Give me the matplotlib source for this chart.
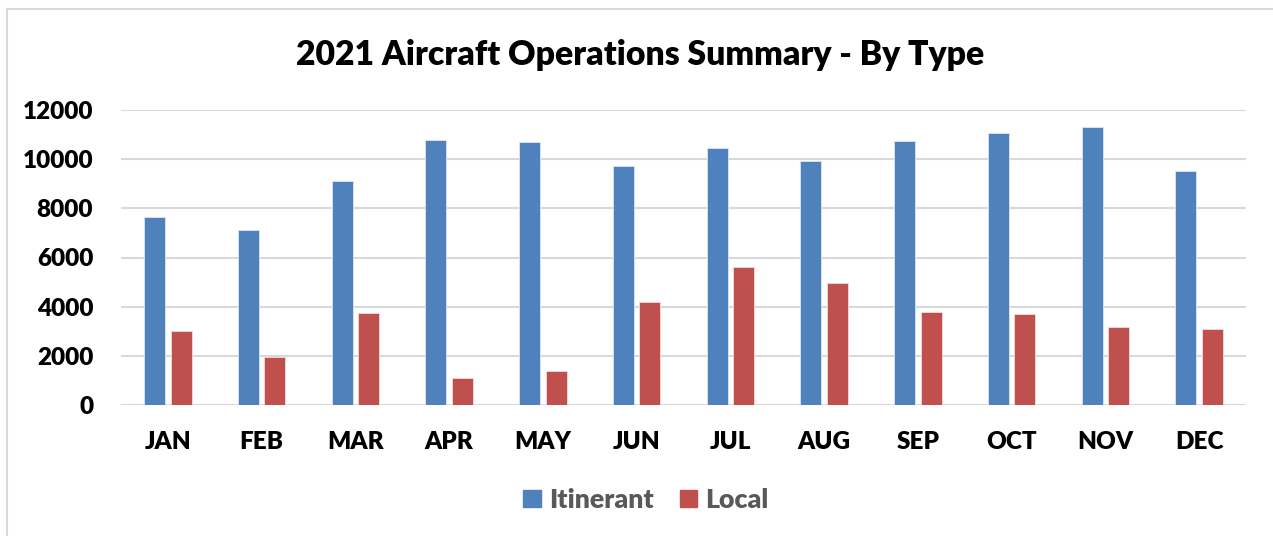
import matplotlib
matplotlib.use("Agg")
import matplotlib.pyplot as plt
import numpy as np
from matplotlib.lines import Line2D
from matplotlib.patches import Patch

months = ["JAN", "FEB", "MAR", "APR", "MAY", "JUN", "JUL", "AUG", "SEP", "OCT", "NOV", "DEC"]
itinerant = [7630, 7120, 9110, 10790, 10710, 9740, 10450, 9910, 10740, 11060, 11290, 9500]
local = [3010, 1940, 3730, 1100, 1400, 4200, 5610, 4980, 3800, 3700, 3190, 3080]
yticks = [0, 2000, 4000, 6000, 8000, 10000, 12000]

BLUE = "#4F81BD"
RED = "#C0504D"
FONT = ["Lato", "DejaVu Sans"]
plt.rcParams['font.family'] = FONT
WEIGHT = "heavy"

W, H = 1273, 536
fig = plt.figure(figsize=(W / 100, H / 100), dpi=100)
ax = fig.add_axes([121 / W, (H - 405) / H, (1246 - 121) / W, (405 - 110) / H])

x = np.arange(len(months))
bw = 0.224
off = 0.142
ax.bar(x - off, itinerant, width=bw, color=BLUE, edgecolor="#dce6f2", linewidth=0.6, zorder=3)
ax.bar(x + off, local, width=bw, color=RED, edgecolor="#f2dcdb", linewidth=0.6, zorder=3)

ax.set_xlim(-0.5, len(months) - 0.5)
ax.set_ylim(0, 12000)
ax.set_yticks(yticks)
ax.set_yticklabels([str(v) for v in yticks], fontsize=17.5, fontweight=WEIGHT)
ax.set_xticks(x)
ax.set_xticklabels(months, fontsize=17.5, fontweight=WEIGHT)
ax.tick_params(axis="y", length=0, pad=20)
ax.tick_params(axis="x", length=0, pad=18.5)
ax.grid(axis="y", color="#d9d9d9", linewidth=1.5, zorder=0)
ax.set_axisbelow(True)
for s in ax.spines.values():
    s.set_visible(False)

fig.text(640 / W, 1 - 55 / H, "2021 Aircraft Operations Summary - By Type",
         ha="center", va="center", fontsize=24.3, fontweight=WEIGHT, color="black")

handles = [Patch(facecolor=BLUE, edgecolor=BLUE), Patch(facecolor=RED, edgecolor=RED)]
leg = fig.legend(handles, ["Itinerant", "Local"], loc="center",
                 bbox_to_anchor=(646 / W, 1 - 500 / H), ncol=2, frameon=False,
                 prop={"family": FONT, "size": 19.3, "weight": WEIGHT},
                 handlelength=0.64, handleheight=0.64, handletextpad=0.3,
                 columnspacing=1.0, borderaxespad=0)
for t in leg.get_texts():
    t.set_color("#595959")

# chart frame (top and left edges visible)
fig.add_artist(Line2D([7 / W, 1], [1 - 9 / H, 1 - 9 / H], color="#d9d9d9", linewidth=1.5))
fig.add_artist(Line2D([7 / W, 7 / W], [0, 1 - 9 / H], color="#d9d9d9", linewidth=1.5))

fig.savefig("out.png", dpi=100, facecolor="white")
